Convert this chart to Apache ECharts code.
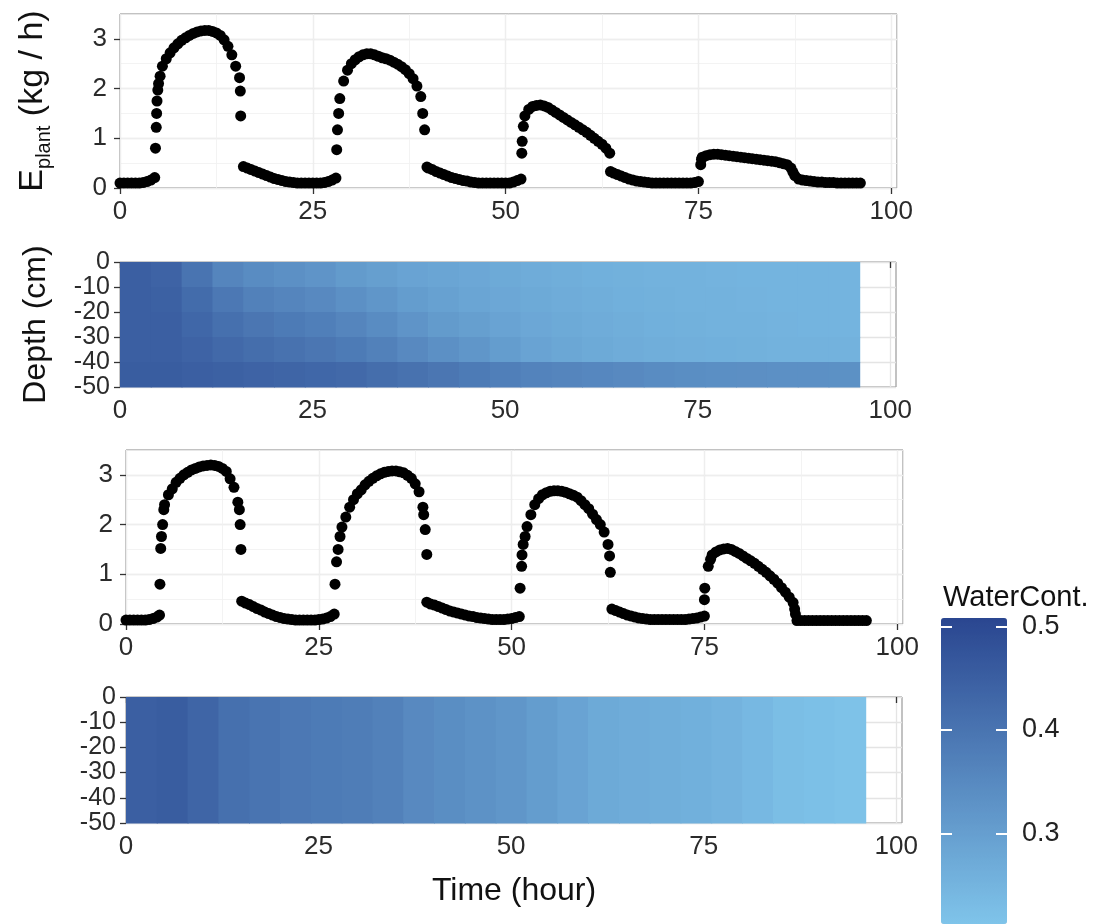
<!DOCTYPE html>
<html>
<head>
<meta charset="utf-8">
<script src="https://cdn.jsdelivr.net/npm/echarts@6/dist/echarts.min.js"></script>
<style>
html,body{margin:0;padding:0;background:#fff;}
#chart{width:1109px;height:924px;}
</style>
</head>
<body>
<div id="chart"></div>
<script>
// ---------------- DATA ----------------
// Plant transpiration, sampled every 0.5 h from t = 0 to 96 h
const sampleStepHours = 0.5;
const eplantTop = [
  0.10,0.10,0.10,0.10,0.10,0.10,0.11,0.13,0.16,0.21,
  2.10,2.45,2.60,2.72,2.82,2.90,2.97,3.02,3.07,3.11,
  3.14,3.16,3.17,3.17,3.15,3.12,3.07,2.98,2.85,2.68,
  2.45,2.22,0.43,0.40,0.37,0.34,0.31,0.28,0.25,0.22,
  0.19,0.17,0.15,0.13,0.12,0.11,0.10,0.10,0.10,0.10,
  0.10,0.10,0.10,0.11,0.13,0.16,0.20,1.80,2.15,2.37,
  2.50,2.58,2.64,2.68,2.70,2.70,2.68,2.65,2.62,2.60,
  2.57,2.53,2.49,2.44,2.38,2.30,2.20,2.05,1.84,1.17,
  0.40,0.37,0.33,0.30,0.27,0.24,0.21,0.19,0.17,0.15,
  0.14,0.12,0.11,0.10,0.10,0.10,0.10,0.10,0.10,0.10,
  0.10,0.10,0.12,0.15,0.18,1.45,1.58,1.64,1.66,1.67,
  1.65,1.62,1.57,1.52,1.47,1.42,1.37,1.32,1.27,1.22,
  1.17,1.12,1.06,1.00,0.94,0.88,0.80,0.70,0.30,0.27,
  0.24,0.21,0.18,0.16,0.14,0.13,0.12,0.11,0.10,0.10,
  0.10,0.10,0.10,0.10,0.10,0.10,0.10,0.10,0.10,0.11,
  0.13,0.62,0.65,0.67,0.68,0.68,0.67,0.66,0.65,0.64,
  0.63,0.62,0.61,0.60,0.59,0.58,0.57,0.56,0.55,0.54,
  0.53,0.51,0.49,0.47,0.40,0.25,0.18,0.16,0.15,0.14,
  0.13,0.12,0.12,0.11,0.11,0.11,0.10,0.10,0.10,0.10,
  0.10,0.10,0.10
];
// extra samples recorded during the fast morning / evening transitions [hour, value]
const eplantTopTransitions = [
  [4.6,0.80],[4.7,1.22],[4.75,1.50],[4.8,1.75],[4.9,1.97],[5.2,2.25],
  [15.6,1.95],[15.65,1.45],
  [28.1,0.77],[28.2,1.17],[28.35,1.50],
  [39.25,1.50],[39.8,0.42],
  [52.1,0.70],[52.15,0.94],[52.3,1.24],
  [63.6,0.33],
  [75.3,0.47],[75.4,0.58],
  [87.25,0.32]
];
const eplantBottom = [
  0.08,0.08,0.08,0.08,0.08,0.08,0.09,0.11,0.14,1.52,
  2.40,2.60,2.72,2.85,2.93,3.00,3.05,3.10,3.13,3.16,
  3.18,3.19,3.20,3.19,3.17,3.13,3.07,2.92,2.75,2.45,
  0.46,0.42,0.39,0.35,0.31,0.28,0.24,0.21,0.18,0.15,
  0.13,0.11,0.10,0.09,0.08,0.08,0.08,0.08,0.08,0.08,
  0.09,0.10,0.12,0.15,0.20,1.50,1.95,2.15,2.35,2.50,
  2.62,2.70,2.80,2.87,2.93,2.98,3.02,3.05,3.07,3.08,
  3.08,3.06,3.04,2.99,2.93,2.82,2.66,2.35,0.44,0.40,
  0.38,0.35,0.32,0.29,0.26,0.24,0.22,0.20,0.18,0.16,
  0.15,0.13,0.12,0.11,0.10,0.09,0.09,0.09,0.09,0.10,
  0.11,0.13,0.15,1.60,1.96,2.20,2.40,2.52,2.60,2.64,
  2.67,2.68,2.68,2.67,2.65,2.62,2.59,2.55,2.48,2.40,
  2.32,2.21,2.10,2.00,1.85,1.60,0.30,0.27,0.24,0.21,
  0.18,0.16,0.14,0.12,0.11,0.10,0.09,0.09,0.09,0.09,
  0.09,0.09,0.09,0.09,0.09,0.09,0.10,0.11,0.12,0.14,
  0.16,1.16,1.39,1.45,1.49,1.51,1.52,1.50,1.46,1.42,
  1.37,1.32,1.27,1.22,1.16,1.10,1.04,0.97,0.90,0.82,
  0.73,0.64,0.54,0.43,0.07,0.07,0.07,0.07,0.07,0.07,
  0.07,0.07,0.07,0.07,0.07,0.07,0.07,0.07,0.07,0.07,
  0.07,0.07,0.07
];
const eplantBottomTransitions = [
  [4.35,0.18],[4.4,0.80],[4.6,1.76],[4.75,2.00],[4.9,2.30],
  [14.7,2.30],[14.8,2.00],[14.9,1.50],
  [27.1,0.80],[27.3,1.25],[27.75,1.76],
  [38.6,2.20],[38.8,1.90],[39.0,1.40],
  [51.1,0.72],[51.3,1.16],[51.35,1.39],[51.75,1.76],
  [62.7,1.37],[62.8,1.04],
  [75.0,0.49],[75.05,0.72],[75.8,1.30],
  [86.7,0.30],[86.8,0.20]
];

// Soil water content: time cell edges (h) and depth layer edges (cm)
const cellHours = [0,4,8,12,16,20,24,28,32,36,40,44,48,52,56,60,64,68,72,76,80,84,88,92,96];
const layerTops    = [0,-10,-20,-30,-40];
const layerBottoms = [-10,-20,-30,-40,-50];
// upper heatmap: one row per layer (0-10, 10-20, 20-30, 30-40, 40-50 cm)
const waterContTop = [
  [0.45,0.44,0.40,0.36,0.345,0.335,0.325,0.31,0.30,0.29,0.285,0.28,0.275,0.27,0.265,0.26,0.258,0.256,0.254,0.252,0.25,0.25,0.25,0.25],
  [0.45,0.445,0.42,0.39,0.37,0.36,0.35,0.335,0.32,0.305,0.295,0.285,0.28,0.275,0.27,0.265,0.26,0.258,0.256,0.254,0.252,0.25,0.25,0.25],
  [0.45,0.45,0.43,0.41,0.395,0.385,0.375,0.36,0.345,0.325,0.31,0.30,0.29,0.28,0.275,0.27,0.265,0.26,0.258,0.256,0.254,0.252,0.25,0.25],
  [0.45,0.45,0.44,0.425,0.415,0.405,0.395,0.385,0.37,0.35,0.335,0.32,0.305,0.29,0.282,0.275,0.27,0.265,0.262,0.26,0.258,0.256,0.255,0.254],
  [0.455,0.455,0.45,0.445,0.44,0.435,0.43,0.425,0.415,0.405,0.395,0.385,0.375,0.365,0.36,0.355,0.35,0.345,0.34,0.338,0.336,0.335,0.334,0.333]
];
// lower heatmap: uniform over the 0 to -50 cm profile
const waterContBottom = [0.45,0.455,0.435,0.41,0.40,0.39,0.385,0.38,0.37,0.35,0.34,0.33,0.32,0.305,0.29,0.275,0.27,0.265,0.26,0.252,0.24,0.228,0.222,0.218];

const timeTicks = [0,25,50,75,100];
const eplantTicks = [0,1,2,3];
const depthTicks = [0,-10,-20,-30,-40,-50];
const legendTicks = [0.3,0.4,0.5];
const waterContRange = [0.213, 0.508];

// ---------------- BUILD ----------------
function scatterData(values, extra) {
  const pts = values.map((v, i) => [i * sampleStepHours, v]);
  return pts.concat(extra);
}
const heatTopData = [];
waterContTop.forEach((row, li) => {
  row.forEach((v, ci) => {
    heatTopData.push([cellHours[ci], cellHours[ci + 1], layerTops[li], layerBottoms[li], v]);
  });
});
const heatBottomData = waterContBottom.map((v, ci) =>
  [cellHours[ci], cellHours[ci + 1], 0, -50, v]);

function renderCell(params, api) {
  const p0 = api.coord([api.value(0), api.value(2)]);
  const p1 = api.coord([api.value(1), api.value(3)]);
  return {
    type: 'rect',
    shape: { x: p0[0], y: p0[1], width: p1[0] - p0[0] + 0.8, height: p1[1] - p0[1] + 0.5 },
    style: { fill: api.visual('color') }
  };
}

const FONT = 'Liberation Sans, Arial, sans-serif';
const tickColor = '#333';
const gridLineMajor = { show: true, lineStyle: { color: '#e4e4e4', width: 1.3 } };
const gridLineMinor = { show: true, lineStyle: { color: '#f0f0f0', width: 0.8 } };
const labelStyle = { fontSize: 26, color: '#2b2b2b', fontFamily: FONT };

const grids = [
  { left: 120, top: 14, width: 777, height: 174 },
  { left: 120, top: 262, width: 776, height: 125 },
  { left: 126, top: 450, width: 777, height: 174 },
  { left: 126, top: 697, width: 776, height: 126 },
  { left: 941, top: 618, width: 66, height: 306, show: false }
].map((g, i) => Object.assign({
  show: i < 4, borderColor: '#858585', borderWidth: 1, backgroundColor: '#fff', containLabel: false
}, g));

function mainX(gridIndex, extra) {
  return Object.assign({
    type: 'value', gridIndex, min: 0, max: 100.75, interval: 25,
    axisLine: { show: false },
    axisTick: { show: true, length: 6, lineStyle: { color: tickColor, width: 1.3 }, customValues: timeTicks },
    axisLabel: Object.assign({ margin: 11, customValues: timeTicks }, labelStyle),
    splitLine: gridLineMajor
  }, extra || {});
}
function minorX(gridIndex) {
  return {
    type: 'value', gridIndex, min: 0, max: 100.75, interval: 12.5, position: 'top',
    axisLine: { show: false }, axisTick: { show: false }, axisLabel: { show: false },
    splitLine: gridLineMinor
  };
}
function eplantY(gridIndex, extra) {
  return Object.assign({
    type: 'value', gridIndex, min: 0, max: 3.5, interval: 1,
    axisLine: { show: false },
    axisTick: { show: true, length: 6, lineStyle: { color: tickColor, width: 1.3 }, customValues: eplantTicks },
    axisLabel: Object.assign({ margin: 13, customValues: eplantTicks }, labelStyle),
    splitLine: gridLineMajor
  }, extra || {});
}
function minorY(gridIndex) {
  return {
    type: 'value', gridIndex, min: 0, max: 3.5, interval: 0.5, position: 'right',
    axisLine: { show: false }, axisTick: { show: false }, axisLabel: { show: false },
    splitLine: gridLineMinor
  };
}
function depthY(gridIndex, extra) {
  return Object.assign({
    type: 'value', gridIndex, min: -50, max: 0, interval: 10,
    axisLine: { show: false },
    axisTick: { show: true, length: 6, lineStyle: { color: tickColor, width: 1.3 } },
    axisLabel: Object.assign({ margin: 10 }, labelStyle, {
      fontSize: 25, lineHeight: 22, customValues: depthTicks,
      showMinLabel: true, showMaxLabel: true, hideOverlap: false
    }),
    splitLine: gridLineMajor
  }, extra || {});
}

const nameStyle = { fontSize: 32, color: '#111', fontFamily: FONT };

const option = {
  animation: false,
  backgroundColor: '#fff',
  textStyle: { fontFamily: FONT },
  title: {
    text: 'WaterCont.', left: 938, top: 578,
    textStyle: { fontSize: 29, fontWeight: 'normal', color: '#111', fontFamily: FONT }
  },
  grid: grids,
  xAxis: [
    mainX(0),
    minorX(0),
    mainX(1),
    mainX(2),
    minorX(2),
    mainX(3, {
      name: 'Time (hour)', nameLocation: 'middle', nameGap: 52, nameTextStyle: nameStyle
    }),
    { type: 'value', gridIndex: 4, min: 0, max: 1, show: false }
  ],
  yAxis: [
    eplantY(0, {
      name: '{e|E}{s|plant}{e| (kg / h)}', nameLocation: 'middle', nameGap: 66,
      nameTextStyle: {
        color: '#111', fontFamily: FONT,
        rich: {
          e: { fontSize: 34, lineHeight: 42, color: '#111', fontFamily: FONT },
          s: { fontSize: 20, lineHeight: 20, verticalAlign: 'bottom', color: '#111', fontFamily: FONT }
        }
      }
    }),
    minorY(0),
    depthY(1, { name: 'Depth (cm)', nameLocation: 'middle', nameGap: 68, nameTextStyle: nameStyle }),
    eplantY(2),
    minorY(2),
    depthY(3),
    {
      type: 'value', gridIndex: 4, min: waterContRange[0], max: waterContRange[1], position: 'right', z: 10,
      axisLine: { show: false },
      axisTick: { show: false },
      axisLabel: { show: true, margin: 15, fontSize: 27, color: '#222', fontFamily: FONT, customValues: legendTicks,
                   formatter: v => v.toFixed(1) },
      splitLine: { show: false }
    },
    {
      type: 'value', gridIndex: 4, min: waterContRange[0], max: waterContRange[1], position: 'left', z: 10,
      axisLine: { show: false },
      axisTick: { show: true, inside: true, length: 11, lineStyle: { color: '#fff', width: 2 }, customValues: legendTicks },
      axisLabel: { show: false },
      splitLine: { show: false }
    },
    {
      type: 'value', gridIndex: 4, min: waterContRange[0], max: waterContRange[1], position: 'left', offset: -66, z: 10,
      axisLine: { show: false },
      axisTick: { show: true, inside: false, length: 11, lineStyle: { color: '#fff', width: 2 }, customValues: legendTicks },
      axisLabel: { show: false },
      splitLine: { show: false }
    }
  ],
  visualMap: {
    type: 'continuous', min: waterContRange[0], max: waterContRange[1],
    dimension: 4, seriesIndex: [1, 3],
    inRange: { color: ['#7fc4ea', '#2a4690'] },
    orient: 'vertical', left: 941, top: 618, itemWidth: 66, itemHeight: 306,
    padding: 0, calculable: false, hoverLink: false, showLabel: false, text: null
  },
  series: [
    {
      type: 'scatter', xAxisIndex: 0, yAxisIndex: 0, symbolSize: 11,
      itemStyle: { color: '#000', opacity: 1 }, data: scatterData(eplantTop, eplantTopTransitions), z: 5
    },
    {
      type: 'custom', xAxisIndex: 2, yAxisIndex: 2, renderItem: renderCell,
      dimensions: ['t0','t1','d0','d1','wc'], encode: { x: [0, 1], y: [2, 3] },
      data: heatTopData, z: 3
    },
    {
      type: 'scatter', xAxisIndex: 3, yAxisIndex: 3, symbolSize: 11,
      itemStyle: { color: '#000', opacity: 1 }, data: scatterData(eplantBottom, eplantBottomTransitions), z: 5
    },
    {
      type: 'custom', xAxisIndex: 5, yAxisIndex: 5, renderItem: renderCell,
      dimensions: ['t0','t1','d0','d1','wc'], encode: { x: [0, 1], y: [2, 3] },
      data: heatBottomData, z: 3
    }
  ]
};

const chart = echarts.init(document.getElementById('chart'), null, { renderer: 'canvas' });
chart.setOption(option);
</script>
</body>
</html>
